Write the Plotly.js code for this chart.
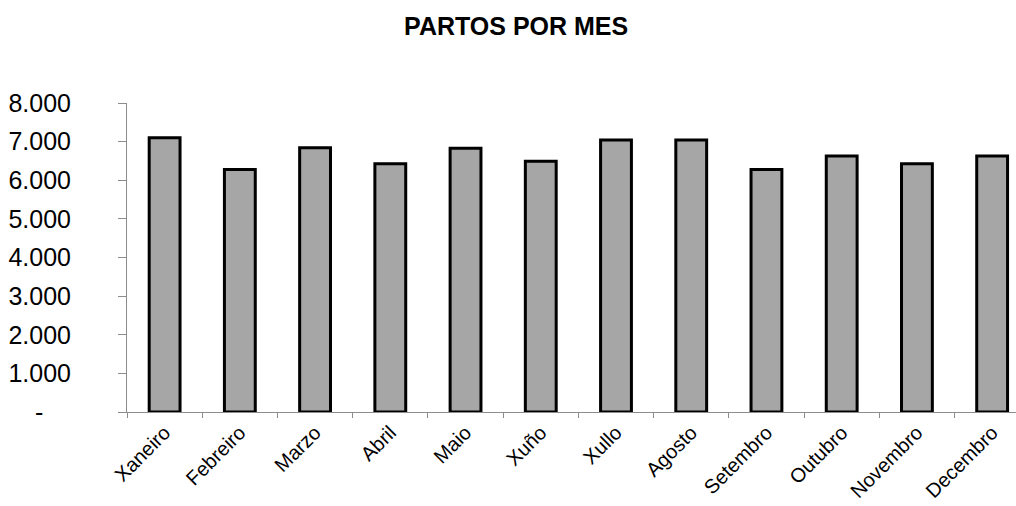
<!DOCTYPE html>
<html>
<head>
<meta charset="utf-8">
<script src="https://cdn.plot.ly/plotly-3.0.1.min.js"></script>
<style>html,body{margin:0;padding:0;background:#fff;}#chart{width:1016px;height:506px;}</style>
</head>
<body>
<div id="chart"></div>
<script>
const months = ["Xaneiro","Febreiro","Marzo","Abril","Maio","Xuño","Xullo","Agosto","Setembro","Outubro","Novembro","Decembro"];
const partos = [7100, 6280, 6840, 6430, 6830, 6490, 7040, 7040, 6280, 6630, 6430, 6630];
const yTickVals = [0, 1000, 2000, 3000, 4000, 5000, 6000, 7000, 8000];
const yTickText = ["-\u00a0\u00a0\u00a0\u00a0", "1.000", "2.000", "3.000", "4.000", "5.000", "6.000", "7.000", "8.000"];

const trace = {
  type: 'bar',
  x: months,
  y: partos,
  width: 0.41,
  marker: {color: '#a6a6a6', line: {color: '#000000', width: 3}},
  hoverinfo: 'x+y'
};

const layout = {
  width: 1016,
  height: 506,
  paper_bgcolor: '#ffffff',
  plot_bgcolor: '#ffffff',
  margin: {l: 127, r: 0, t: 103, b: 94},
  showlegend: false,
  bargap: 0.59,
  title: {
    text: 'PARTOS POR MES',
    font: {family: 'Liberation Sans, Arial, sans-serif', size: 25, color: '#000', weight: 'bold'},
    xref: 'container', x: 0.508, xanchor: 'center',
    yref: 'container', y: 1 - 26/506, yanchor: 'middle'
  },
  font: {family: 'Liberation Sans, Arial, sans-serif', color: '#000'},
  xaxis: {
    type: 'category',
    range: [-0.5, 11.317],
    showline: true, linecolor: '#8c8c8c', linewidth: 1,
    ticks: 'outside', tickson: 'boundaries', ticklen: 5, tickcolor: '#8c8c8c', tickwidth: 1,
    tickangle: -45,
    tickfont: {size: 20, color: '#000'},
    showgrid: false, zeroline: false,
    fixedrange: true
  },
  yaxis: {
    range: [0, 8000],
    tickvals: yTickVals,
    ticktext: yTickText,
    showline: true, linecolor: '#8c8c8c', linewidth: 1,
    ticks: 'outside', ticklen: 8, tickcolor: '#8c8c8c', tickwidth: 1,
    ticklabelstandoff: 42,
    tickfont: {size: 25, color: '#000'},
    showgrid: false, zeroline: false,
    fixedrange: true
  }
};

Plotly.newPlot('chart', [trace], layout, {displayModeBar: false, staticPlot: true});
</script>
</body>
</html>
